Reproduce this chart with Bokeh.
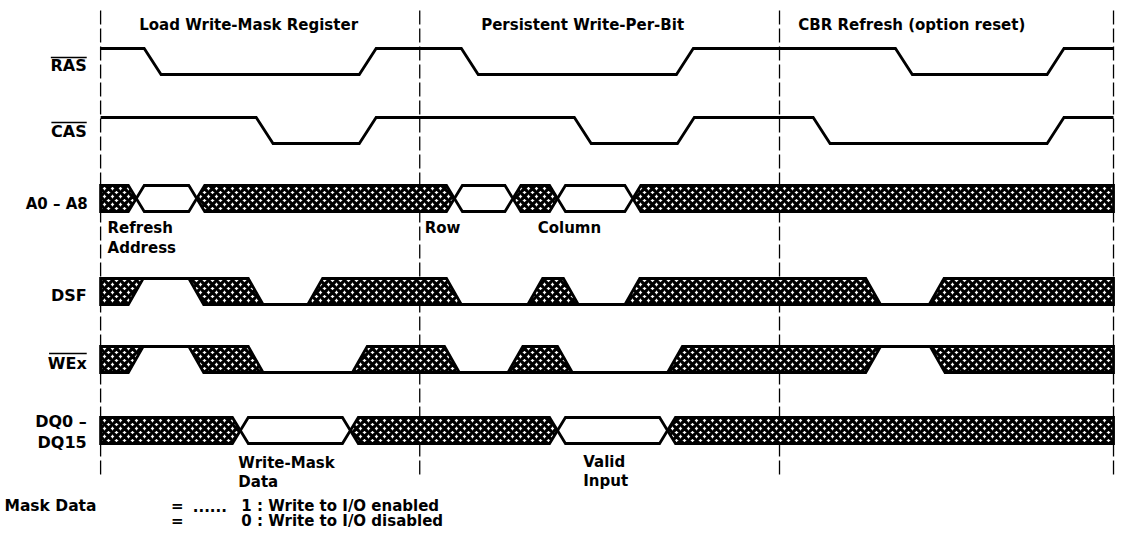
from bokeh.plotting import figure
from bokeh.models import Range1d
from bokeh.core.properties import value
from bokeh.embed import file_html
from bokeh.resources import INLINE

# ---------------- data (time axis in arbitrary units) ----------------
phase_titles = ["Load Write-Mask Register", "Persistent Write-Per-Bit", "CBR Refresh (option reset)"]
phase_bounds = [101, 423, 786, 1123]

ras_states = [1, 0, 1, 0, 1, 0, 1]
ras_edges = [145, 362, 465, 682, 903, 1056]
cas_states = [1, 0, 1, 0, 1, 0, 1]
cas_edges = [258, 362, 579, 683, 820, 1056]
level_slew = 17

dsf_states = ["X", "1", "X", "0", "X", "0", "X", "0", "X", "0", "X"]
dsf_edges = [129, 190, 250, 310, 450, 532, 568, 630, 873, 937]
wex_states = ["X", "1", "X", "0", "X", "0", "X", "0", "X", "1", "X"]
wex_edges = [129, 190, 250, 355, 448, 512, 562, 673, 873, 938]
ctrl_slew = 15

a_states = ["X", "V", "X", "V", "X", "V", "X"]
a_cross = [137, 198, 458, 517, 562, 638]
dq_states = ["X", "V", "X", "V", "X"]
dq_cross = [242, 353, 562, 673]
bus_half = 8

a_notes = ["Refresh\nAddress", "Row", "Column"]
dq_notes = ["Write-Mask\nData", "Valid\nInput"]
legend_lines = ["1 : Write to I/O enabled", "0 : Write to I/O disabled"]

# ---------------- layout ----------------
W, H = 1115, 531
ROW_H = 26
row_top = {"RAS": 48, "CAS": 117, "A0": 185, "DSF": 278, "WEx": 346, "DQ": 417}
FONT = value("DejaVu Sans")
LW = 2.8
TY = -6   # text baseline correction

p = figure(width=W, height=H, output_backend="svg", toolbar_location=None,
           x_axis_type=None, y_axis_type=None, min_border=0,
           x_range=Range1d(0, 1125), y_range=Range1d(H, 0))
p.grid.visible = False
p.outline_line_color = None
p.background_fill_color = "white"

T0, T1 = phase_bounds[0], phase_bounds[-1]

# phase boundaries (dashed)
p.segment(x0=phase_bounds, y0=[10] * 4, x1=phase_bounds, y1=[475] * 4,
          line_color="black", line_width=1.3, line_dash="14 4")

hatch = dict(fill_color="white", hatch_pattern="diagonal_cross", hatch_color="black",
             hatch_scale=8, hatch_weight=3.3, line_color="black", line_width=LW,
             line_join="miter")


def level_path(states, edges, slew, top):
    rail = lambda s: top if s == 1 else top + ROW_H
    xs, ys = [T0], [rail(states[0])]
    for i, e in enumerate(edges):
        xs += [e, e + slew]
        ys += [rail(states[i]), rail(states[i + 1])]
    xs.append(T1)
    ys.append(rail(states[-1]))
    p.line(xs, ys, line_color="black", line_width=LW, line_join="miter")


def ctrl_shapes(states, edges, slew, top):
    bot = top + ROW_H
    n = len(states)
    px, py, lx, ly = [], [], [], []
    for i, s in enumerate(states):
        if i > 0:
            a = edges[i - 1]; b = a + slew; prv = states[i - 1]
        if i < n - 1:
            c = edges[i]; d = c + slew; nxt = states[i + 1]
        if s == "X":
            if i == 0:
                lt = lb = T0
            elif prv == "1":
                lt, lb = a, b
            else:
                lb, lt = a, b
            if i == n - 1:
                rt = rb = T1
            elif nxt == "1":
                rb, rt = c, d
            else:
                rt, rb = c, d
            px.append([lt, rt, rb, lb])
            py.append([top, top, bot, bot])
        else:
            y = top if s == "1" else bot
            lx.append([T0 if i == 0 else b, T1 if i == n - 1 else c])
            ly.append([y, y])
    p.multi_line(lx, ly, line_color="black", line_width=LW)
    p.patches(px, py, **hatch)


def bus_shapes(states, cross, hw, top):
    bot = top + ROW_H
    mid = top + ROW_H / 2
    n = len(states)
    hx, hy, vx, vy = [], [], [], []
    for i, s in enumerate(states):
        xs, ys = [], []
        if i == 0:
            xs += [T0, T0]; ys += [bot, top]
        else:
            cl = cross[i - 1]
            xs += [cl + hw, cl, cl + hw]; ys += [bot, mid, top]
        if i == n - 1:
            xs += [T1, T1]; ys += [top, bot]
        else:
            cr = cross[i]
            xs += [cr - hw, cr, cr - hw]; ys += [top, mid, bot]
        if s == "X":
            hx.append(xs); hy.append(ys)
        else:
            vx.append(xs); vy.append(ys)
    p.patches(hx, hy, **hatch)
    p.patches(vx, vy, fill_color="white", line_color="black", line_width=LW, line_join="miter")


level_path(ras_states, ras_edges, level_slew, row_top["RAS"])
level_path(cas_states, cas_edges, level_slew, row_top["CAS"])
bus_shapes(a_states, a_cross, bus_half, row_top["A0"])
ctrl_shapes(dsf_states, dsf_edges, ctrl_slew, row_top["DSF"])
ctrl_shapes(wex_states, wex_edges, ctrl_slew, row_top["WEx"])
bus_shapes(dq_states, dq_cross, bus_half, row_top["DQ"])

# ---------------- texts ----------------
def txt(x, y, t, size="15px", align="left"):
    p.text(x=[x], y=[y + TY], text=[t], text_font=FONT, text_font_style="bold",
           text_font_size=size, text_align=align, text_baseline="alphabetic",
           text_color="black")

for x, t in zip([140, 485, 805], phase_titles):
    txt(x, 30, t)

# signal labels (right aligned)
LBL_X = 87
txt(LBL_X, 71, "RAS", "16px", "right")
txt(LBL_X, 137, "CAS", "16px", "right")
txt(LBL_X + 1, 209, "A0 – A8", "15px", "right")
txt(LBL_X, 301, "DSF", "16px", "right")
txt(LBL_X, 369, "WEx", "16px", "right")
txt(LBL_X, 427, "DQ0 –", "16px", "right")
txt(LBL_X, 448, "DQ15", "16px", "right")

# overlines for active-low signals
em = {"R": .770, "A": .774, "S": .720, "C": .734, "W": 1.03, "E": .683, "x": .663}
ox0, ox1, oy = [], [], []
for name, oly in [("RAS", 57), ("CAS", 122), ("WEx", 353)]:
    w = sum(em[ch] for ch in name) * 16
    ox0.append(LBL_X - w); ox1.append(LBL_X); oy.append(oly)
p.segment(x0=ox0, y0=oy, x1=ox1, y1=oy, line_color="black", line_width=1.6)

# bus annotations
for (x, y), t in zip([(108, 233), (428, 233), (542, 233)], a_notes):
    for k, part in enumerate(t.split("\n")):
        txt(x, y + 20 * k, part)
for (x, y), t in zip([(240, 468), (588, 467)], dq_notes):
    for k, part in enumerate(t.split("\n")):
        txt(x, y + 19 * k, part)

# legend at bottom
txt(4, 511, "Mask Data", "15.5px")
txt(172, 511, "=", "15px")
txt(172, 526, "=", "15px")
txt(194, 511, "......", "15px")
txt(243, 511, legend_lines[0], "15px")
txt(243, 526, legend_lines[1], "15px")

open("out.html", "w").write(file_html(p, INLINE))
